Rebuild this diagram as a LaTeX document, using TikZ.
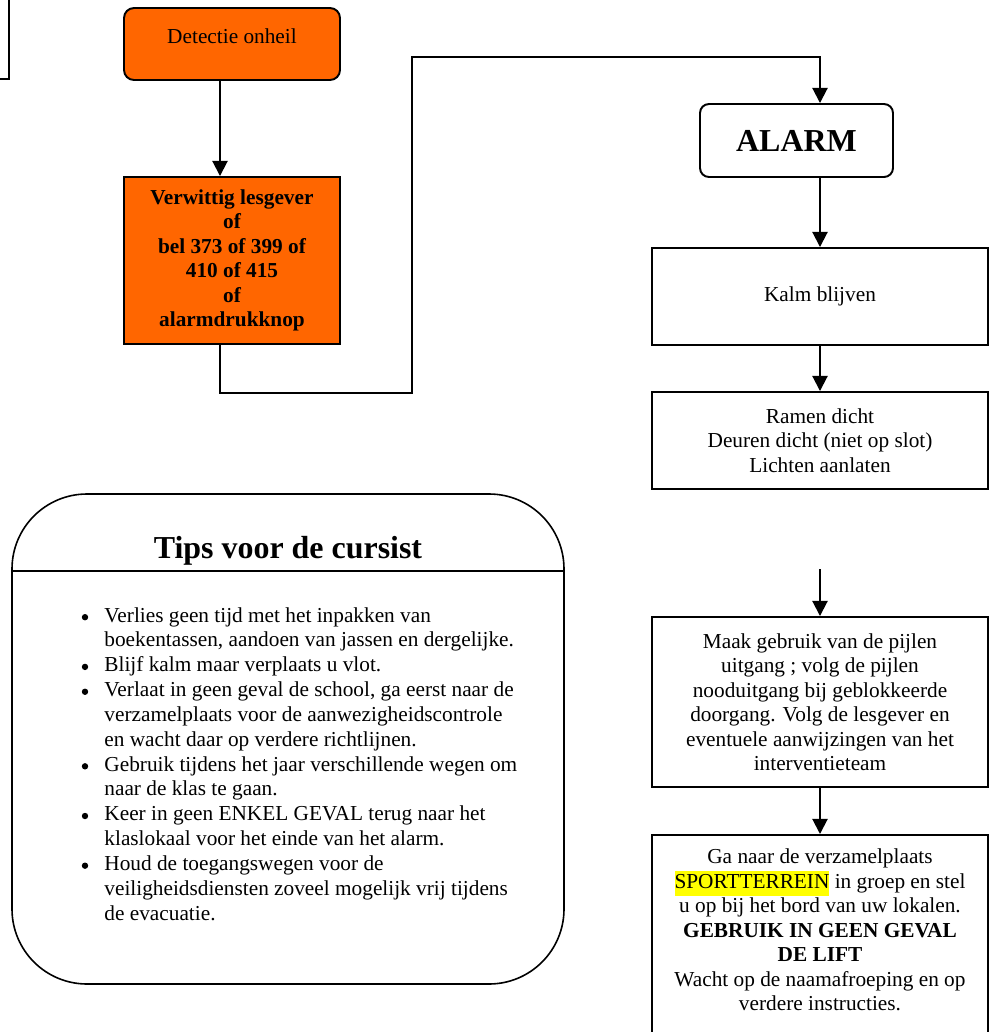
\documentclass[tikz,border=0pt]{standalone}
\usepackage{fontspec}
\setmainfont{Liberation Serif}
\usetikzlibrary{arrows.meta}
\definecolor{orangeA}{HTML}{FF6600}
\definecolor{hiyellow}{HTML}{FFFF00}
\newcommand{\PX}{*0.5634pt}
\newcommand{\hilite}[1]{{\setlength{\fboxsep}{0pt}\colorbox{hiyellow}{\strut #1}}}
\newcommand{\tipgap}{\makebox[13pt][l]{}}
\begin{document}
\begin{tikzpicture}[x=0.5634pt, y=-0.5634pt,
  every node/.style={font=\fontsize{12}{13.8}\selectfont, inner sep=0pt},
  orbox/.style={draw, line width=1.1pt, fill=orangeA, minimum width=216\PX, align=center},
  whbox/.style={draw, line width=1.1pt, fill=white, minimum width=336\PX, align=center},
  conn/.style={line width=1.1pt},
  arr/.style={conn, -{Triangle[width=8.5pt,length=8.5pt]}},
  tipline/.style={line width=0.9pt},
  bulletdot/.style={fill=black}]
\useasboundingbox (0,0) rectangle (998,1032);
\clip (0,0) rectangle (998,1032);
% partial box at the left edge
\draw[conn] (-40,-40) rectangle (9,79);
\coordinate (colA) at (220,0);
\coordinate (colB) at (820,0);
% left column
\node[orbox, rounded corners=10\PX, minimum height=72\PX] (detect) at (232,44) {};
\node[anchor=base] (detecttxt) at (232,43) {Detectie onheil};
\node[orbox, minimum height=167\PX, font=\fontsize{12}{13.8}\selectfont\bfseries] (verw) at (232,260.5)
  {Verwittig lesgever\\of\\bel 373 of 399 of\\410 of 415\\of\\alarmdrukknop};
% right column
\node[whbox, rounded corners=9\PX, minimum width=193\PX, minimum height=73\PX,
  font=\fontsize{18}{20}\selectfont\bfseries] (alarm) at (796.5,140.5) {ALARM};
\node[whbox, minimum height=97\PX] (kalm) at (820,296.5) {Kalm blijven};
\node[whbox, minimum height=97\PX] (ramen) at (820,440.5)
  {Ramen dicht\\Deuren dicht (niet op slot)\\Lichten aanlaten};
\coordinate (free) at (820,569);
\node[whbox, minimum height=170\PX] (maak) at (820,702)
  {Maak gebruik van de pijlen\\uitgang ; volg de pijlen\\nooduitgang bij geblokkeerde\\doorgang. Volg de lesgever en\\eventuele aanwijzingen van het\\interventieteam};
\node[whbox, minimum height=230\PX, anchor=north] (ga) at (820,834) {};
\node[align=center] (gatxt) at (820,930)
  {Ga naar de verzamelplaats\\\hilite{SPORTTERREIN} in groep en stel\\u op bij het bord van uw lokalen.\\\textbf{GEBRUIK IN GEEN GEVAL}\\\textbf{DE LIFT}\\Wacht op de naamafroeping en op\\verdere instructies.};
% connectors
\coordinate (j1) at (412,393);
\coordinate (j2) at (412,57);
\draw[arr] (detect.south -| colA) -- (verw.north -| colA);
\draw[arr] (verw.south -| colA) |- (j1) -- (j2) -| (alarm.north -| colB);
\draw[arr] (alarm.south -| colB) -- (kalm.north);
\draw[arr] (kalm.south) -- (ramen.north);
\draw[arr] (free) -- (maak.north);
\draw[arr] (maak.south) -- (ga.north);
% tips box
\node[draw, tipline, rounded corners=75\PX, minimum width=552\PX, minimum height=490\PX] (tips) at (288,739) {};
\coordinate (divy) at (0,571);
\draw[tipline] (tips.west |- divy) -- (tips.east |- divy);
\node[anchor=base, font=\fontsize{18}{20}\selectfont\bfseries] (tipstitle) at (288,558) {Tips voor de cursist};
\node[anchor=base west, font=\fontsize{12}{14}\selectfont] (tipslist) at (81,622)
  {\begin{tabular}[t]{@{}l@{}l@{}}
  \tipgap & Verlies geen tijd met het inpakken van\\
   & boekentassen, aandoen van jassen en dergelijke.\\
  \tipgap & Blijf kalm maar verplaats u vlot.\\
  \tipgap & Verlaat in geen geval de school, ga eerst naar de\\
   & verzamelplaats voor de aanwezigheidscontrole\\
   & en wacht daar op verdere richtlijnen.\\
  \tipgap & Gebruik tijdens het jaar verschillende wegen om\\
   & naar de klas te gaan.\\
  \tipgap & Keer in geen ENKEL GEVAL terug naar het\\
   & klaslokaal voor het einde van het alarm.\\
  \tipgap & Houd de toegangswegen voor de\\
   & veiligheidsdiensten zoveel mogelijk vrij tijdens\\
   & de evacuatie.
  \end{tabular}};
% bullets
\foreach \k in {0,2,3,6,8,10} {
  \fill[bulletdot] (85,{617.2+\k*24.85}) circle (3.2);
}
\end{tikzpicture}
\end{document}
